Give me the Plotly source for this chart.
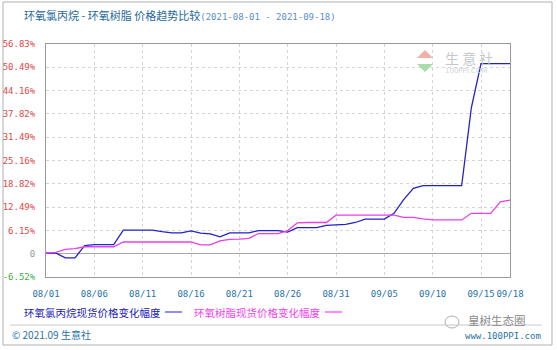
import pandas as pd
import plotly.graph_objects as go

# ---------------- data ----------------
dates = pd.date_range("2021-08-01", "2021-09-18", freq="D")

ech_change = [0.0, 0.0, -1.3, -1.3, 2.0, 2.3, 2.3, 2.3, 6.2, 6.2,
              6.2, 6.2, 5.8, 5.5, 5.5, 6.0, 5.4, 5.2, 4.4, 5.5,
              5.5, 5.5, 6.1, 6.1, 6.1, 5.7, 6.9, 6.9, 6.9, 7.5,
              7.6, 7.8, 8.3, 9.2, 9.2, 9.2, 10.8, 14.5, 17.6, 18.3,
              18.3, 18.3, 18.3, 18.3, 39.5, 51.5, 51.5, 51.5, 51.5]

epoxy_change = [0.0, 0.2, 1.0, 1.2, 1.7, 1.7, 1.7, 1.7, 3.0, 3.0,
                3.0, 3.0, 3.0, 3.0, 3.0, 3.0, 2.2, 2.2, 3.3, 3.7,
                3.8, 4.0, 5.3, 5.3, 5.3, 6.1, 8.2, 8.3, 8.3, 8.3,
                10.3, 10.3, 10.3, 10.3, 10.3, 10.3, 10.3, 9.7, 9.7, 9.3,
                9.0, 9.0, 9.0, 9.0, 10.8, 10.8, 10.8, 13.9, 14.4]

series_names = ["环氧氯丙烷现货价格变化幅度", "环氧树脂现货价格变化幅度"]

x_tick_dates = ["2021-08-01", "2021-08-06", "2021-08-11", "2021-08-16", "2021-08-21",
                "2021-08-26", "2021-08-31", "2021-09-05", "2021-09-10", "2021-09-15",
                "2021-09-18"]
x_tick_labels = ["08/01", "08/06", "08/11", "08/16", "08/21", "08/26", "08/31",
                 "09/05", "09/10", "09/15", "09/18"]

y_min, y_max = -6.52, 56.83
y_tick_labels = ["-6.52%", "0", "6.15%", "12.49%", "18.82%", "25.16%",
                 "31.49%", "37.82%", "44.16%", "50.49%", "56.83%"]

title_main = "环氧氯丙烷 - 环氧树脂 价格趋势比较"
title_dates = "(2021-08-01 - 2021-09-18)"

# ---------------- styling ----------------
W, H = 557, 350
L, R, T, B = 46, 510, 44, 277   # plot area in pixels
BLUE = "#2222c8"
MAGENTA = "#e840e8"
TEAL = "#2a72a8"

def px(x):
    return (x - L) / (R - L)

def py(y):
    return (B - y) / (B - T)

step = (y_max - y_min) / 10
y_ticks = [y_min + k * step for k in range(11)]
y_tick_text = []
for lab in y_tick_labels:
    if lab == "0":
        col = "#999999"
    elif lab.startswith("-"):
        col = "#3cb043"
    else:
        col = "#e04848"
    y_tick_text.append(f'<span style="color:{col}">{lab}</span>')

fig = go.Figure()
fig.add_trace(go.Scatter(x=dates, y=ech_change, mode="lines", name=series_names[0],
                         line=dict(color=BLUE, width=1.3), showlegend=False))
fig.add_trace(go.Scatter(x=dates, y=epoxy_change, mode="lines", name=series_names[1],
                         line=dict(color=MAGENTA, width=1.3), showlegend=False))

mono = "DejaVu Sans Mono"
fig.update_layout(
    width=W, height=H, autosize=False,
    margin=dict(l=L, r=W - R, t=T, b=H - B, pad=0),
    paper_bgcolor="white", plot_bgcolor="white",
    xaxis=dict(type="date", range=["2021-08-01", "2021-09-18"],
               tickvals=x_tick_dates, ticktext=x_tick_labels, tickangle=0,
               tickfont=dict(family=mono, size=9, color=TEAL),
               ticks="outside", ticklen=8, tickcolor="rgba(0,0,0,0)",
               showgrid=True, gridcolor="#d4d4d4", griddash="dot", gridwidth=1,
               showline=True, linecolor="#9a9a9a", linewidth=1, mirror=True,
               zeroline=False, automargin=False, fixedrange=True),
    yaxis=dict(range=[y_min, y_max], tickvals=y_ticks, ticktext=y_tick_text,
               tickfont=dict(family=mono, size=9, color="#e04848"),
               ticks="outside", ticklen=8, tickcolor="rgba(0,0,0,0)",
               showgrid=True, gridcolor="#d4d4d4", griddash="dot", gridwidth=1,
               showline=True, linecolor="#9a9a9a", linewidth=1, mirror=True,
               zeroline=True, zerolinecolor="#a8a8a8", zerolinewidth=1,
               automargin=False, fixedrange=True),
    font=dict(family="Noto Sans CJK SC"),
)

annotations = [
    dict(x=px(22), y=py(15), xref="paper", yref="paper", xanchor="left", yanchor="middle",
         text=f'<span style="color:#1f6a9c">{title_main}</span>'
              f'<span style="color:#5a8fbf;font-family:{mono};font-size:9px">{title_dates}</span>',
         showarrow=False, font=dict(size=11, family="Noto Sans CJK SC")),
    dict(x=px(22), y=py(312), xref="paper", yref="paper", xanchor="left", yanchor="middle",
         text=series_names[0], showarrow=False,
         font=dict(size=10.5, color="#2020b8", family="Noto Sans CJK SC")),
    dict(x=px(192), y=py(312), xref="paper", yref="paper", xanchor="left", yanchor="middle",
         text=series_names[1], showarrow=False,
         font=dict(size=10.5, color="#f040f0", family="Noto Sans CJK SC")),
    dict(x=px(10), y=py(334), xref="paper", yref="paper", xanchor="left", yanchor="middle",
         text="© 2021.09 生意社", showarrow=False,
         font=dict(size=10, color=TEAL, family="Noto Sans CJK SC")),
    dict(x=px(543), y=py(336), xref="paper", yref="paper", xanchor="right", yanchor="middle",
         text="www.100PPI.com", showarrow=False,
         font=dict(size=9, color=TEAL, family=mono)),
    dict(x=px(466), y=py(320), xref="paper", yref="paper", xanchor="left", yanchor="middle",
         text="皇树生态圈", showarrow=False,
         font=dict(size=11.5, color="#8a8a8a", family="Noto Sans CJK SC")),
    dict(x=px(443), y=py(58), xref="paper", yref="paper", xanchor="left", yanchor="middle",
         text="生 意 社", showarrow=False,
         font=dict(size=14, color="#c4c8cc", family="Noto Sans CJK SC")),
    dict(x=px(443), y=py(71), xref="paper", yref="paper", xanchor="left", yanchor="middle",
         text="100PPI.COM", showarrow=False,
         font=dict(size=7, color="#d0d4d8", family="DejaVu Sans")),
]
fig.update_layout(annotations=annotations)

shapes = [
    # outer frame
    dict(type="rect", xref="paper", yref="paper", x0=px(3), x1=px(552), y0=py(2), y1=py(345),
         line=dict(color="#b0b0b0", width=1), layer="below"),
    # legend samples
    dict(type="line", xref="paper", yref="paper", x0=px(165), x1=px(182), y0=py(312), y1=py(312),
         line=dict(color="#6a6af0", width=1.5)),
    dict(type="line", xref="paper", yref="paper", x0=px(325), x1=px(342), y0=py(312), y1=py(312),
         line=dict(color="#ff66ff", width=1.5)),
    # footer rule
    dict(type="line", xref="paper", yref="paper", x0=px(10), x1=px(542), y0=py(325), y1=py(325),
         line=dict(color="#c8c8c8", width=1)),
    # watermark logo (diamond)
    dict(type="path", xref="paper", yref="paper",
         path=f"M {px(425)} {py(50)} L {px(433)} {py(58)} L {px(417)} {py(58)} Z",
         fillcolor="#f0b0a8", line=dict(width=0)),
    dict(type="path", xref="paper", yref="paper",
         path=f"M {px(417)} {py(64)} L {px(433)} {py(64)} L {px(425)} {py(72)} Z",
         fillcolor="#a8dca8", line=dict(width=0)),
    # wechat icon hint
    dict(type="circle", xref="paper", yref="paper", x0=px(445), x1=px(459), y0=py(316), y1=py(328),
         line=dict(color="#b0b0b0", width=1)),
]
fig.update_layout(shapes=shapes)

fig.write_html("out.html")
